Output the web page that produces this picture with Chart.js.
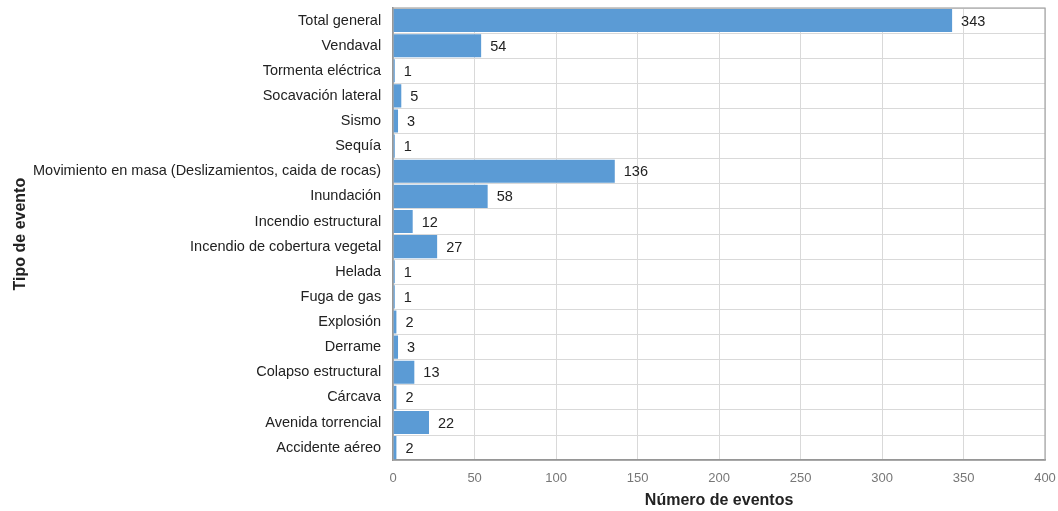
<!DOCTYPE html>
<html>
<head>
<meta charset="utf-8">
<script src="https://cdn.jsdelivr.net/npm/chart.js"></script>
<style>
  html, body { margin: 0; padding: 0; background: #fff; }
  #wrap { width: 1058px; height: 511px; }
</style>
</head>
<body>
<div id="wrap"><canvas id="chart-1"></canvas></div>
<script>
// Event types, top to bottom
const categories = [
  'Total general', 'Vendaval', 'Tormenta eléctrica', 'Socavación lateral', 'Sismo', 'Sequía',
  'Movimiento en masa (Deslizamientos, caida de rocas)', 'Inundación', 'Incendio estructural',
  'Incendio de cobertura vegetal', 'Helada', 'Fuga de gas', 'Explosión', 'Derrame',
  'Colapso estructural', 'Cárcava', 'Avenida torrencial', 'Accidente aéreo'
];
const eventCounts = [343, 54, 1, 5, 3, 1, 136, 58, 12, 27, 1, 1, 2, 3, 13, 2, 22, 2];
const xTicks = [0, 50, 100, 150, 200, 250, 300, 350, 400];

const font = 'Liberation Sans, Arial, sans-serif';

// Draw the value next to each bar end
const valueLabels = {
  id: 'valueLabels',
  afterDatasetsDraw(chart) {
    const ctx = chart.ctx;
    const meta = chart.getDatasetMeta(0);
    ctx.save();
    ctx.font = '14.5px ' + font;
    ctx.fillStyle = '#222';
    ctx.textBaseline = 'middle';
    meta.data.forEach((bar, i) => {
      ctx.fillText(String(eventCounts[i]), bar.x + 9, bar.y + 1);
    });
    ctx.restore();
  }
};

// Gray frame round the plot area
const plotFrame = {
  id: 'plotFrame',
  beforeDatasetsDraw(chart) {
    const { ctx, chartArea: a } = chart;
    ctx.save();
    ctx.strokeStyle = '#a6a6a6';
    ctx.lineWidth = 1.2;
    ctx.strokeRect(a.left, a.top, a.right - a.left, a.bottom - a.top);
    ctx.restore();
  }
};

new Chart(document.getElementById('chart-1'), {
  type: 'bar',
  data: {
    labels: categories,
    datasets: [{
      data: eventCounts,
      backgroundColor: '#5b9bd5',
      borderWidth: 0,
      categoryPercentage: 0.92,
      barPercentage: 1
    }]
  },
  options: {
    indexAxis: 'y',
    responsive: true,
    maintainAspectRatio: false,
    animation: false,
    layout: { padding: { top: 8, right: 13, left: 10, bottom: 1 } },
    plugins: {
      legend: { display: false },
      tooltip: { enabled: false }
    },
    scales: {
      x: {
        min: 0,
        max: 400,
        afterBuildTicks(axis) { axis.ticks = xTicks.map(v => ({ value: v })); },
        afterFit(axis) { axis.paddingRight = 0; },
        grid: { color: '#d9d9d9', drawTicks: false },
        border: { color: '#8c8c8c', width: 1.5 },
        ticks: { color: '#777', font: { family: font, size: 13 }, padding: 10 },
        title: {
          display: true,
          text: 'Número de eventos',
          color: '#222',
          font: { family: font, size: 16, weight: 'bold' },
          padding: { top: -5, bottom: 0 }
        }
      },
      y: {
        afterFit(axis) { axis.paddingTop = 0; axis.paddingBottom = 0; },
        grid: { color: '#d9d9d9', drawTicks: false, offset: true },
        border: { color: '#8c8c8c', width: 1.5 },
        ticks: { color: '#222', font: { family: font, size: 14.5 }, padding: 12, autoSkip: false },
        title: {
          display: true,
          text: 'Tipo de evento',
          color: '#222',
          font: { family: font, size: 16, weight: 'bold', lineHeight: 1 },
          padding: { top: 3, bottom: -8 }
        }
      }
    }
  },
  plugins: [valueLabels, plotFrame]
});
</script>
</body>
</html>
